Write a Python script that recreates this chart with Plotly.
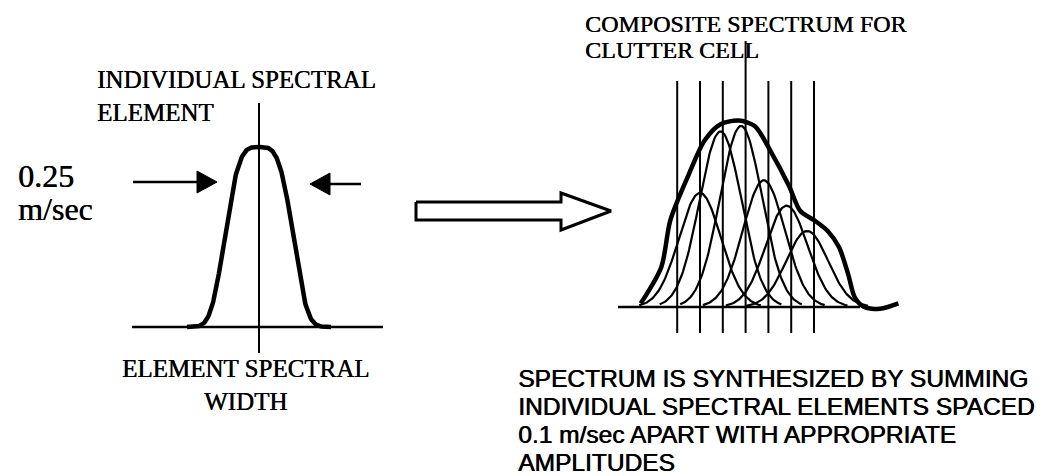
import numpy as np
import plotly.graph_objects as go

# ---------------- data ----------------
# individual spectral element (left panel), relative amplitude, width label
element_label_width = "0.25"          # m/sec
element_amplitude = 1.0

# composite spectrum (right panel): elements spaced ~0.1 m/sec apart
component_velocity = [0.00, 0.09, 0.18, 0.28, 0.38, 0.47]      # m/sec
component_amplitude = [0.63, 0.97, 1.00, 0.70, 0.56, 0.42]     # relative
grid_velocity = [-0.1, 0.0, 0.1, 0.2, 0.3, 0.4, 0.5]           # m/sec

# hand-drawn composite envelope
envelope_velocity = [-0.26, -0.17, -0.13, -0.05, 0.02, 0.09, 0.17, 0.24,
                     0.31, 0.39, 0.44, 0.50, 0.56, 0.61, 0.65, 0.68,
                     0.72, 0.79, 0.87]
envelope_amplitude = [0.02, 0.22, 0.48, 0.73, 0.92, 1.01, 1.03, 1.00,
                      0.86, 0.67, 0.53, 0.48, 0.42, 0.33, 0.18, 0.05,
                      0.00, -0.01, 0.02]

# ---------------- layout constants (pixel canvas) ----------------
W, H = 1051, 476
BLACK = "#000000"

# left panel geometry
L_CX, L_BASE, L_H = 251, 319, 180
L_A, L_P = 38.0, 3.6

# right panel geometry
R_X0, R_SCALE = 692, 228.0      # px at v=0, px per m/sec
R_BASE, R_H = 299, 181
R_SIGMA = 0.092                 # m/sec

def vx(v):
    return R_X0 + np.asarray(v, dtype=float) * R_SCALE

fig = go.Figure()

def line(xs, ys, width, shape="linear", smoothing=None):
    ln = dict(color=BLACK, width=width, shape=shape)
    if smoothing is not None:
        ln["smoothing"] = smoothing
    fig.add_trace(go.Scatter(x=list(xs), y=list(ys), mode="lines", line=ln,
                             hoverinfo="skip", showlegend=False))

def poly(xs, ys, width, fill=None):
    fig.add_trace(go.Scatter(x=list(xs), y=list(ys), mode="lines",
                             fill="toself" if fill else None,
                             fillcolor=fill if fill else None,
                             line=dict(color=BLACK, width=width),
                             hoverinfo="skip", showlegend=False))

# ---- left panel ----
line([124, 375], [L_BASE, L_BASE], 2.5)
line([L_CX, L_CX], [95, 345], 2)
d = np.linspace(-72, 72, 241)
yl = L_BASE - element_amplitude * L_H * np.exp(-(np.abs(d) / L_A) ** L_P)
line(L_CX + d, yl, 4.5)

# width arrows
line([125, 192], [174, 174], 2.5)
poly([189, 209, 189, 189], [163, 174, 185, 163], 1, fill=BLACK)
line([320, 353], [176, 176], 2.5)
poly([322, 302, 322, 322], [165, 176, 187, 165], 1, fill=BLACK)

# hollow transition arrow
poly([408, 553, 553, 603, 553, 553, 408, 408],
     [194, 194, 185, 203, 222, 212, 212, 194], 3)

# ---- right panel ----
gx = vx(grid_velocity)
for i, x in enumerate(gx):
    top = 33 if i == 3 else 73
    line([x, x], [top, 325], 2)
line([610, 852], [R_BASE, R_BASE], 2.5)

for v, a in zip(component_velocity, component_amplitude):
    vv = np.linspace(v - 2.9 * R_SIGMA, v + 2.9 * R_SIGMA, 121)
    yy = R_BASE - a * R_H * np.exp(-0.5 * ((vv - v) / R_SIGMA) ** 2)
    line(vx(vv), yy, 2.2)

line(vx(envelope_velocity), R_BASE - np.asarray(envelope_amplitude) * R_H,
     4.5, shape="spline", smoothing=0.8)

# ---- texts ----
SERIF = "Liberation Serif, Times New Roman, serif"
SANS = "Liberation Sans, Arial, sans-serif"

def text(t, x, baseline, size, family, xanchor="left", shadow="0.4px 0 0 #000"):
    fig.add_annotation(x=x, y=baseline - 0.34 * size, text=t, showarrow=False,
                       xanchor=xanchor, yanchor="middle", xref="x", yref="y",
                       font=dict(family=family, size=size, color=BLACK,
                                 shadow=shadow))

text("INDIVIDUAL SPECTRAL", 87, 80, 25, SERIF)
text("ELEMENT", 87, 113, 25, SERIF)
text(element_label_width, 8, 179, 32, SERIF)
text("m/sec", 8, 212, 32, SERIF)
text("ELEMENT SPECTRAL", 112, 369, 25, SERIF)
text("WIDTH", 237, 402, 25, SERIF, xanchor="center")
text("COMPOSITE SPECTRUM FOR", 575, 24, 24, SERIF)
text("CLUTTER CELL", 575, 50, 24, SERIF)

bottom = ["SPECTRUM IS SYNTHESIZED BY SUMMING",
          "INDIVIDUAL SPECTRAL ELEMENTS SPACED",
          "0.1 m/sec APART WITH APPROPRIATE",
          "AMPLITUDES"]
for k, t in enumerate(bottom):
    text(t, 508, 379 + 28 * k, 24.5, SANS, shadow="0.7px 0 0 #000")

fig.update_layout(
    width=W, height=H, margin=dict(l=0, r=0, t=0, b=0),
    paper_bgcolor="white", plot_bgcolor="white",
    xaxis=dict(range=[0, W], visible=False, fixedrange=True),
    yaxis=dict(range=[H, 0], visible=False, fixedrange=True),
)

fig.write_html("out.html")
